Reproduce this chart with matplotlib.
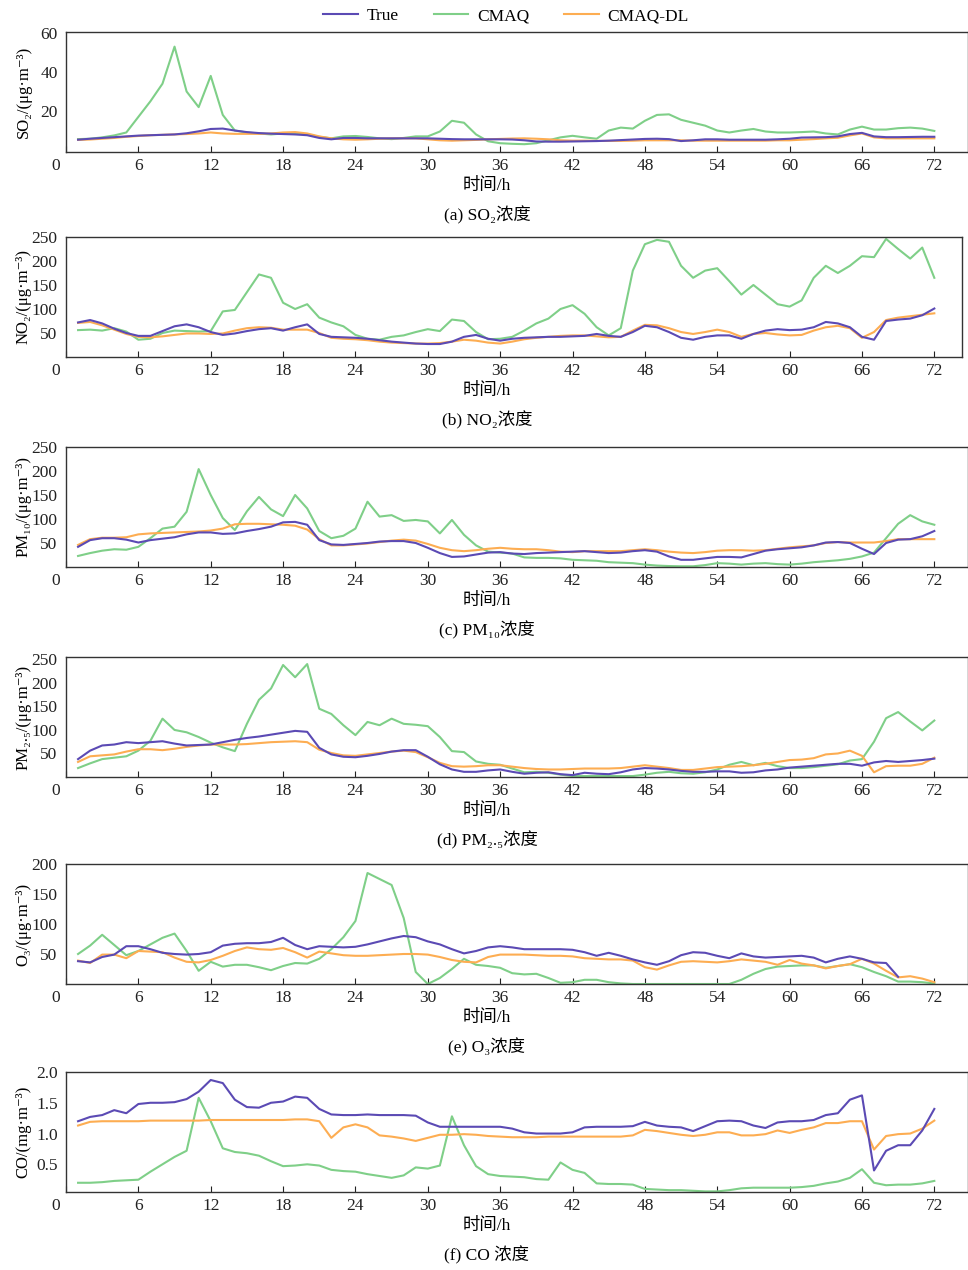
import numpy as np
import matplotlib
matplotlib.use("Agg")
from matplotlib import pyplot as plt
from matplotlib.transforms import ScaledTranslation

plt.rcParams['font.family'] = ['Liberation Serif', 'DejaVu Serif', 'Noto Sans CJK SC']

hours = np.arange(1, 73)
nan = np.nan

so2_true = [5.3, 5.8, 6.2, 6.6, 7, 7.4, 7.6, 7.8, 8, 8.6,
            9.6, 10.8, 11, 10, 9.2, 8.7, 8.4, 8.2, 8, 7.6,
            6.2, 5.5, 6.2, 6.2, 6, 6, 6, 6, 6, 6,
            5.8, 5.6, 5.5, 5.5, 5.5, 5.5, 5.4, 5, 4.4, 4.3,
            4.3, 4.4, 4.5, 4.6, 4.8, 5.1, 5.4, 5.7, 5.8, 5.6,
            4.6, 5, 5.5, 5.5, 5.3, 5.3, 5.3, 5.3, 5.5, 5.8,
            6.4, 6.5, 6.6, 7, 8.2, 8.8, 7, 6.6, 6.6, 6.7,
            6.8, 6.8]
so2_cmaq = [5.6, 5.8, 6.5, 7.5, 9, 17, 25, 34, 53, 30,
            22, 38, 18, 10, 9, 8.5, 8, 8.5, 8.7, 8,
            6.8, 6, 7, 7.2, 6.7, 6, 5.6, 6.2, 7, 7,
            9.5, 15, 14, 8, 4.5, 3.5, 3.2, 3, 3.5, 5,
            6.5, 7.3, 6.5, 5.8, 10, 11.5, 11, 15, 18, 18.3,
            15.5, 14, 12.5, 10, 9, 10, 10.8, 9.5, 9, 9,
            9.2, 9.5, 8.5, 8, 10.5, 12, 10.5, 10.5, 11.2, 11.5,
            11, 9.8]
so2_dl = [5.2, 5.4, 5.8, 6.2, 6.8, 7.2, 7.6, 7.8, 8, 8.2,
          8.5, 9, 8.5, 8.3, 8.3, 8.3, 8.5, 9, 9.2, 8.5,
          7, 6, 5.5, 5.3, 5.5, 5.8, 6, 6, 6, 5.5,
          5, 4.8, 5, 5.2, 5.5, 5.7, 5.9, 6, 5.8, 5.5,
          5, 4.8, 4.8, 4.7, 4.7, 4.7, 4.8, 5, 5, 5,
          5, 4.8, 4.8, 4.8, 4.8, 4.8, 4.8, 4.8, 5, 5,
          5.3, 5.6, 6, 6.3, 7.5, 8.5, 6.5, 6, 6, 6,
          6, 6]

no2_true = [72, 77, 70, 59, 50, 44, 44, 54, 64, 68,
            62, 52, 46, 49, 54, 58, 60, 55, 62, 68,
            48, 42, 41, 40, 38, 35, 32, 30, 28, 27,
            27, 32, 42, 46, 38, 34, 38, 40, 41, 42,
            42, 43, 44, 48, 44, 42, 52, 65, 62, 52,
            40, 36, 42, 45, 45, 38, 48, 55, 58, 56,
            57, 62, 73, 70, 62, 42, 36, 75, 78, 80,
            87, 101]
no2_cmaq = [56, 57, 55, 60, 53, 36, 38, 50, 55, 54,
            53, 54, 95, 98, 135, 172, 165, 113, 100, 110,
            82, 72, 64, 46, 38, 36, 42, 45, 52, 58,
            54, 78, 75, 52, 37, 38, 42, 55, 70, 80,
            100, 108, 90, 62, 45, 60, 180, 235, 244, 240,
            190, 165, 180, 185, 158, 130, 150, 130, 110, 105,
            118, 165, 190, 175, 190, 210, 208, 246, 225, 205,
            228, 165]
no2_dl = [71, 73, 66, 57, 48, 42, 41, 43, 46, 49,
          49, 48, 49, 55, 60, 62, 61, 57, 57, 57,
          50, 40, 38, 37, 35, 32, 30, 29, 28, 28,
          29, 32, 36, 34, 30, 28, 32, 37, 40, 42,
          44, 45, 45, 43, 41, 42, 55, 67, 66, 60,
          52, 48, 52, 57, 52, 42, 48, 50, 47, 45,
          46, 55, 62, 65, 60, 40, 52, 77, 82, 85,
          88, 91]

pm10_true = [42, 56, 60, 60, 57, 51, 56, 59, 62, 68,
             72, 72, 69, 70, 75, 79, 84, 93, 94, 88,
             56, 47, 46, 48, 50, 53, 54, 54, 50, 40,
             29, 21, 22, 26, 30, 31, 28, 27, 29, 30,
             31, 32, 33, 31, 29, 30, 33, 35, 32, 22,
             15, 15, 18, 21, 21, 20, 27, 34, 37, 39,
             41, 45, 51, 52, 50, 38, 27, 50, 57, 58,
             64, 75]
pm10_cmaq = [23, 29, 34, 37, 36, 42, 60, 80, 84, 115,
             204, 150, 102, 77, 116, 146, 120, 106, 150, 122,
             75, 60, 65, 80, 136, 105, 108, 96, 98, 95,
             70, 98, 67, 45, 32, 30, 28, 20, 19, 19,
             18, 15, 14, 13, 10, 9, 8, 5, 3, 2,
             1.5, 1.5, 4, 8, 7, 5, 7, 8, 6, 5,
             7, 10, 12, 14, 17, 22, 30, 60, 90, 108,
             95, 88]
pm10_dl = [46, 58, 61, 61, 62, 68, 70, 71, 72, 73,
           74, 76, 80, 89, 90, 90, 89, 88, 86, 78,
           58, 45, 45, 47, 49, 52, 55, 57, 55, 48,
           40, 35, 33, 35, 38, 40, 38, 37, 37, 35,
           32, 31, 33, 33, 33, 33, 35, 37, 35, 32,
           30, 29, 31, 34, 35, 35, 34, 35, 38, 41,
           43, 45, 50, 52, 51, 51, 51, 54, 58, 58,
           58, 58]

pm25_true = [38, 56, 67, 69, 74, 72, 74, 76, 71, 67,
             68, 69, 74, 79, 83, 86, 90, 94, 98, 96,
             62, 48, 43, 42, 45, 49, 54, 57, 57, 43,
             27, 16, 11, 11, 14, 16, 11, 7, 9, 10,
             6, 4, 9, 7, 6, 10, 16, 19, 18, 16,
             13, 11, 11, 12, 12, 9, 10, 14, 16, 20,
             22, 24, 26, 28, 28, 24, 31, 34, 32, 34,
             36, 39]
pm25_cmaq = [19, 29, 38, 41, 44, 56, 77, 124, 100, 95,
             85, 73, 63, 55, 113, 164, 188, 238, 212, 240,
             145, 134, 110, 89, 117, 110, 124, 113, 111, 108,
             85, 55, 53, 33, 28, 26, 18, 10, 11, 9,
             5, 2, 2, 2, 2, 2, 2, 5, 9, 11,
             8, 7, 10, 16, 26, 32, 25, 30, 23, 19,
             19, 21, 24, 27, 35, 38, 75, 125, 138, 118,
             99, 120]
pm25_dl = [32, 44, 46, 48, 54, 59, 59, 57, 60, 64,
           67, 69, 69, 69, 70, 72, 74, 75, 76, 74,
           58, 51, 46, 45, 48, 51, 54, 56, 53, 42,
           30, 23, 22, 23, 25, 25, 22, 19, 17, 16,
           16, 17, 18, 18, 18, 19, 22, 25, 22, 19,
           15, 15, 18, 21, 22, 23, 25, 28, 32, 36,
           37, 40, 48, 50, 56, 45, 10, 23, 24, 24,
           28, 41]

o3_true = [38, 36, 45, 49, 63, 63, 58, 52, 50, 49,
           50, 53, 64, 67, 68, 68, 70, 77, 65, 58,
           63, 62, 61, 62, 66, 71, 76, 80, 78, 71,
           66, 58, 51, 55, 61, 63, 61, 58, 58, 58,
           58, 57, 53, 47, 52, 47, 41, 36, 32, 38,
           48, 53, 52, 47, 43, 51, 46, 44, 45, 46,
           47, 44, 36, 42, 46, 42, 36, 35, 12, nan,
           nan, nan]
o3_cmaq = [50, 64, 82, 65, 48, 55, 66, 77, 84, 55,
           22, 37, 29, 32, 32, 28, 23, 30, 35, 34,
           42, 58, 78, 105, 185, 175, 165, 110, 20, 0,
           10, 25, 42, 32, 30, 27, 18, 16, 17, 10,
           2, 3, 7, 7, 3, 1, 0, 0, 0, 0,
           0, 0, 0, 0, 0, 7, 17, 25, 29, 30,
           31, 31, 27, 30, 33, 28, 20, 13, 4, 4,
           3, 1]
o3_dl = [39, 35, 49, 49, 43, 55, 54, 53, 44, 37,
         36, 40, 47, 55, 61, 58, 57, 60, 53, 44,
         54, 51, 48, 47, 47, 48, 49, 50, 50, 49,
         45, 40, 37, 36, 45, 49, 49, 49, 48, 47,
         47, 46, 43, 42, 41, 41, 39, 28, 24, 31,
         37, 38, 37, 36, 38, 41, 39, 37, 32, 40,
         34, 31, 26, 30, 33, 42, 34, 22, 11, 13,
         9, 3]

co_true = [1.20, 1.27, 1.30, 1.38, 1.33, 1.48, 1.50, 1.50, 1.51, 1.56,
           1.68, 1.87, 1.82, 1.55, 1.43, 1.42, 1.50, 1.52, 1.60, 1.58,
           1.40, 1.31, 1.30, 1.30, 1.31, 1.30, 1.30, 1.30, 1.29, 1.18,
           1.11, 1.11, 1.11, 1.11, 1.11, 1.11, 1.08, 1.02, 1.00, 1.00,
           1.00, 1.02, 1.10, 1.11, 1.11, 1.11, 1.12, 1.19, 1.13, 1.11,
           1.10, 1.04, 1.12, 1.20, 1.21, 1.20, 1.13, 1.09, 1.18, 1.20,
           1.20, 1.22, 1.30, 1.33, 1.55, 1.62, 0.40, 0.72, 0.81, 0.81,
           1.05, 1.40]
co_cmaq = [0.20, 0.20, 0.21, 0.23, 0.24, 0.25, 0.38, 0.50, 0.62, 0.72,
           1.58, 1.20, 0.76, 0.70, 0.68, 0.64, 0.55, 0.47, 0.48, 0.50,
           0.48, 0.41, 0.39, 0.38, 0.34, 0.31, 0.28, 0.32, 0.45, 0.43,
           0.48, 1.28, 0.81, 0.47, 0.34, 0.31, 0.30, 0.29, 0.26, 0.25,
           0.53, 0.41, 0.36, 0.19, 0.18, 0.18, 0.17, 0.10, 0.09, 0.08,
           0.08, 0.07, 0.06, 0.06, 0.08, 0.11, 0.12, 0.12, 0.12, 0.12,
           0.13, 0.15, 0.19, 0.22, 0.28, 0.42, 0.20, 0.16, 0.17, 0.17,
           0.19, 0.23]
co_dl = [1.13, 1.19, 1.20, 1.20, 1.20, 1.20, 1.21, 1.21, 1.21, 1.21,
         1.21, 1.22, 1.22, 1.22, 1.22, 1.22, 1.22, 1.22, 1.23, 1.23,
         1.20, 0.93, 1.10, 1.15, 1.10, 0.97, 0.95, 0.92, 0.88, 0.93,
         0.98, 0.98, 0.99, 0.98, 0.96, 0.95, 0.94, 0.94, 0.94, 0.95,
         0.95, 0.95, 0.95, 0.95, 0.95, 0.95, 0.97, 1.06, 1.04, 1.01,
         0.98, 0.96, 0.98, 1.02, 1.02, 0.97, 0.97, 0.99, 1.05, 1.01,
         1.06, 1.10, 1.17, 1.17, 1.20, 1.20, 0.74, 0.96, 0.99, 1.00,
         1.08, 1.21]

ylabels = ['SO₂/(μg·m⁻³)', 'NO₂/(μg·m⁻³)', 'PM₁₀/(μg·m⁻³)',
           'PM₂.₅/(μg·m⁻³)', 'O₃/(μg·m⁻³)', 'CO/(mg·m⁻³)']
captions = ['(a) SO₂浓度', '(b) NO₂浓度', '(c) PM₁₀浓度',
            '(d) PM₂.₅浓度', '(e) O₃浓度', '(f) CO 浓度']
yticks = [[20, 40, 60], [50, 100, 150, 200, 250], [50, 100, 150, 200, 250],
          [50, 100, 150, 200, 250], [50, 100, 150, 200], [0.5, 1.0, 1.5, 2.0]]
ylims = [(-1, 60.5), (0, 250), (0, 250), (0, 255), (0, 200), (0.05, 2.0)]
xticks = list(range(0, 73, 6))

series = [(so2_true, so2_cmaq, so2_dl), (no2_true, no2_cmaq, no2_dl),
          (pm10_true, pm10_cmaq, pm10_dl), (pm25_true, pm25_cmaq, pm25_dl),
          (o3_true, o3_cmaq, o3_dl), (co_true, co_cmaq, co_dl)]

c_true = '#5b4ab4'
c_cmaq = '#7fcf88'
c_dl = '#fdad52'

W, H = 968, 1270
fig = plt.figure(figsize=(W / 100, H / 100), dpi=100)

tops = [32, 237, 447, 657, 864, 1072]
for i, top in enumerate(tops):
    right = 962 if i == 1 else 968
    ax = fig.add_axes([66 / W, 1 - (top + 120) / H, (right - 66) / W, 120 / H])
    t, c, d = series[i]
    ax.plot(hours, t, color=c_true, lw=1.5, label='True', zorder=3)
    ax.plot(hours, c, color=c_cmaq, lw=1.5, label='CMAQ', zorder=2)
    ax.plot(hours, d, color=c_dl, lw=1.5, label='CMAQ-DL', zorder=2.5)
    ax.set_xlim(0, (right - 66) / 12.06)
    ax.set_ylim(*ylims[i])
    ax.set_xticks(xticks)
    ax.set_yticks(yticks[i])
    if i == 5:
        ax.set_yticklabels(['0.5', '1.0', '1.5', '2.0'])
    ax.tick_params(axis='x', direction='in', length=4, width=0.8, pad=4,
                   labelsize=12.5, colors='#222')
    ax.tick_params(axis='y', length=0, pad=6, labelsize=12.5, colors='#222')
    lab0 = ax.get_xticklabels()[0]
    lab0.set_transform(lab0.get_transform() + ScaledTranslation(-10 / 100, 0, fig.dpi_scale_trans))
    for sp in ax.spines.values():
        sp.set_color('#333')
        sp.set_linewidth(1.0)
    ax.set_ylabel(ylabels[i], fontsize=12, labelpad=4)
    ax.yaxis.set_label_coords(-0.038, 0.5)
    fig.text(487 / W, 1 - (top + 154) / H, '时间/h', ha='center', va='center',
             fontsize=12.5)
    fig.text(487 / W, 1 - (top + 183) / H, captions[i], ha='center', va='center',
             fontsize=12.5)
    if i == 0:
        handles, labels = ax.get_legend_handles_labels()

fig.legend(handles, labels, loc='center', bbox_to_anchor=(506 / W, 1 - 16 / H),
           ncol=3, frameon=False, fontsize=12.5, handlelength=2.0,
           columnspacing=2.0, handletextpad=0.5)

fig.savefig('out.png', dpi=100)
